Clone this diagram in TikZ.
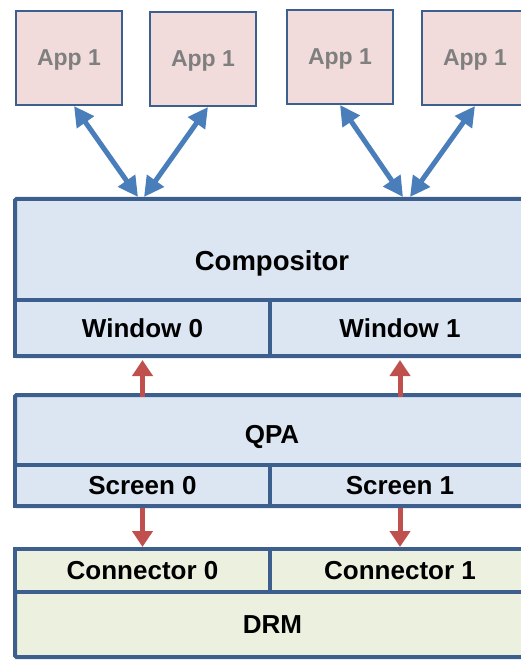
\documentclass[tikz,border=0pt]{standalone}
\usepackage{fontspec}
\setmainfont{Liberation Sans}
\usetikzlibrary{arrows.meta, positioning}

\definecolor{edgeblue}{HTML}{3C5F8E}
\definecolor{layerblue}{HTML}{DCE6F2}
\definecolor{apppink}{HTML}{F2DCDB}
\definecolor{drmgreen}{HTML}{EBF1DE}
\definecolor{linkblue}{HTML}{4A7EBB}
\definecolor{linkred}{HTML}{C0504D}
\definecolor{appgray}{HTML}{7F7F7F}

\begin{document}
\begin{tikzpicture}[
    x=1pt, y=-1pt,
    layer/.style={rectangle, draw=edgeblue, line width=4pt, rounded corners=1.5pt, inner sep=0pt, outer sep=0pt, anchor=north west},
    part/.style={rectangle, draw=edgeblue, line width=3.5pt, inner sep=0pt, outer sep=0pt, font=\bfseries\fontsize{26}{30}\selectfont},
    app/.style={rectangle, draw=edgeblue, line width=2pt, fill=apppink, minimum width=106pt, minimum height=94pt, inner sep=0pt, text depth=0pt, text=appgray, font=\bfseries\fontsize{23}{27}\selectfont, anchor=north west},
    title/.style={font=\bfseries\fontsize{27.5}{32}\selectfont},
    link/.style={{Triangle[length=20pt,width=20pt]}-{Triangle[length=20pt,width=20pt]}, line width=5pt, draw=linkblue},
    signal/.style={-{Triangle[length=16pt,width=20pt]}, line width=5pt, draw=linkred}
]
    \clip (0,0) rectangle (521,660);

    % Apps
    \node[app] (appA) at (15,10) {App 1};
    \node[app] (appB) at (149,11) {App 1};
    \node[app] (appC) at (286,9) {App 1};
    \node[app] (appD) at (421,10) {App 1};

    % Compositor
    \node[layer, fill=layerblue, minimum width=515pt, minimum height=157pt] (compositor) at (15,199) {};
    \node[title] (complabel) at (272,263) {Compositor};
    \node[part, fill=layerblue, minimum width=255pt, minimum height=56pt, anchor=north west] (window0) at (15,300) {Window 0};
    \node[part, fill=layerblue, minimum width=260pt, minimum height=56pt, right=0pt of window0] (window1) {Window 1};

    % QPA
    \node[layer, fill=layerblue, minimum width=515pt, minimum height=111pt] (qpa) at (15,395) {};
    \node[title, font=\bfseries\fontsize{26}{30}\selectfont] (qpalabel) at (272,437) {QPA};
    \node[part, fill=layerblue, minimum width=255pt, minimum height=41pt, anchor=north west] (screen0) at (15,465) {Screen 0};
    \node[part, fill=layerblue, minimum width=260pt, minimum height=41pt, right=0pt of screen0] (screen1) {Screen 1};

    % DRM
    \node[layer, fill=drmgreen, minimum width=515pt, minimum height=108pt] (drmbox) at (15,549) {};
    \node[part, fill=drmgreen, minimum width=255pt, minimum height=43pt, anchor=north west] (connector0) at (15,549) {Connector 0};
    \node[part, fill=drmgreen, minimum width=260pt, minimum height=43pt, right=0pt of connector0] (connector1) {Connector 1};
    \node[part, draw=none, minimum width=515pt, minimum height=65pt, anchor=north west] (drm) at (15,592) {DRM};

    % Links to compositor
    \coordinate (comp0a) at (138,197);
    \coordinate (comp0b) at (144,197);
    \coordinate (comp1a) at (403,197);
    \coordinate (comp1b) at (410,197);
    \draw[link] ([xshift=5pt]appA.south) -- (comp0a);
    \draw[link] ([xshift=5pt]appB.south) -- (comp0b);
    \draw[link] (appC.south) -- (comp1a);
    \draw[link] (appD.south) -- (comp1b);

    % Screens to windows and connectors
    \draw[signal, shorten >=4pt] ([yshift=-2pt]screen0.north |- qpa.north) -- (window0.south);
    \draw[signal, shorten >=4pt] ([yshift=-2pt]screen1.north |- qpa.north) -- (window1.south);
    \draw[signal, shorten <=2pt, shorten >=2pt] (screen0.south) -- (connector0.north);
    \draw[signal, shorten <=2pt, shorten >=2pt] (screen1.south) -- (connector1.north);
\end{tikzpicture}
\end{document}
